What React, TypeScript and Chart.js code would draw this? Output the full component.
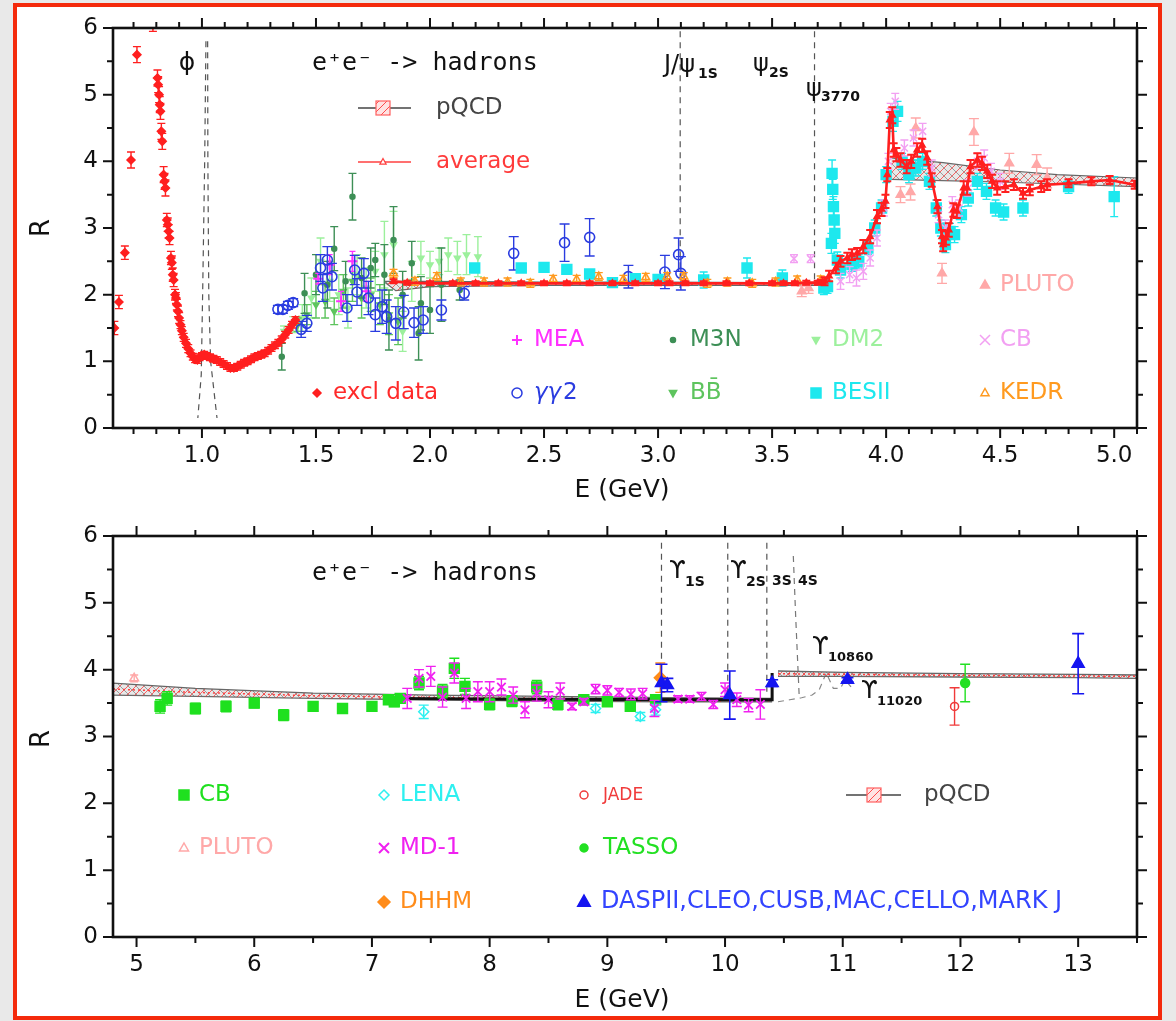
import React, { useEffect, useRef } from "react";
import { Chart, registerables } from "chart.js";

Chart.register(...registerables);

const SANS = "'DejaVu Sans', 'Noto Sans', sans-serif";
const MONO = "'DejaVu Sans Mono', 'Liberation Mono', monospace";

// ---------------- tick labels ----------------
const topXTicks = [1.0, 1.5, 2.0, 2.5, 3.0, 3.5, 4.0, 4.5, 5.0];
const botXTicks = [5, 6, 7, 8, 9, 10, 11, 12, 13];
const yTicks = [0, 1, 2, 3, 4, 5, 6];

// ---------------- TOP PANEL DATA ----------------
const exclE = [0.616,0.636,0.662,0.689,0.715,0.785,0.805,0.808,0.812,0.815,0.818,0.822,0.826,0.832,0.836,0.840,0.846,0.850,0.854,0.858,0.864,0.868,0.872,0.876,0.882,0.886,0.890,0.895,0.900,0.906,0.912,0.920,0.930,0.940,0.950,0.960,0.970,0.980,0.990,1.000,1.010,1.020,1.035,1.050,1.065,1.080,1.095,1.110,1.125,1.140,1.155,1.170,1.185,1.200,1.215,1.230,1.245,1.260,1.275,1.290,1.305,1.320,1.335,1.350,1.365,1.380,1.395,1.410];
const exclR = [1.50,1.89,2.63,4.02,5.60,6.05,5.25,5.15,5.00,4.85,4.75,4.45,4.30,3.80,3.70,3.60,3.12,3.05,2.95,2.85,2.55,2.48,2.30,2.22,2.00,1.95,1.85,1.75,1.65,1.55,1.46,1.36,1.27,1.19,1.12,1.07,1.03,1.02,1.06,1.08,1.10,1.08,1.06,1.04,1.02,0.99,0.96,0.93,0.90,0.90,0.92,0.95,0.98,1.00,1.03,1.06,1.08,1.10,1.12,1.16,1.20,1.24,1.28,1.33,1.40,1.47,1.55,1.62];
const exclErr = [0.10,0.10,0.10,0.12,0.12,0.10,0.12,0.12,0.12,0.12,0.12,0.12,0.12,0.12,0.12,0.12,0.10,0.10,0.10,0.10,0.10,0.10,0.10,0.10,0.08,0.08,0.08,0.08,0.08,0.06,0.06,0.06,0.06,0.06,0.05,0.05,0.05,0.05,0.05,0.05,0.05,0.05,0.05,0.05,0.05,0.05,0.05,0.05,0.05,0.05,0.05,0.05,0.05,0.05,0.05,0.05,0.05,0.05,0.05,0.05,0.05,0.05,0.05,0.05,0.05,0.05,0.05,0.05];

const gg2E = [1.333,1.355,1.377,1.40,1.435,1.46,1.52,1.53,1.55,1.57,1.636,1.67,1.68,1.71,1.73,1.76,1.79,1.81,1.85,1.885,1.93,1.97,2.05,2.15,2.367,2.59,2.70,2.87,3.03,3.09,3.10];
const gg2R = [1.78,1.78,1.84,1.88,1.48,1.57,2.40,2.10,2.52,2.27,1.80,2.37,2.04,2.32,1.95,1.70,1.82,1.67,1.57,1.74,1.58,1.62,1.77,2.02,2.62,2.78,2.86,2.27,2.34,2.60,2.32];
const gg2Err = [0.06,0.06,0.06,0.06,0.12,0.12,0.20,0.20,0.20,0.20,0.20,0.22,0.20,0.22,0.25,0.25,0.25,0.25,0.25,0.25,0.22,0.20,0.15,0.10,0.25,0.28,0.28,0.17,0.25,0.25,0.25];

const m3nE = [1.35,1.45,1.50,1.55,1.58,1.63,1.66,1.70,1.74,1.76,1.80,1.82,1.84,1.88,1.92,1.95,1.96,2.00,2.05,2.13];
const m3nR = [1.07,2.02,2.30,2.15,2.69,2.20,3.47,2.25,2.40,2.52,2.30,1.62,2.82,2.00,2.47,1.42,1.87,1.77,2.15,2.07];
const m3nErr = [0.20,0.30,0.30,0.35,0.33,0.30,0.35,0.30,0.30,0.25,0.45,0.45,0.50,0.35,0.33,0.40,0.40,0.35,0.55,0.15];

const dm2E = [1.36,1.40,1.44,1.48,1.52,1.56,1.60,1.64,1.68,1.72,1.76,1.80,1.84,1.88,1.92,1.96,2.00,2.04,2.08,2.12,2.16,2.21];
const dm2R = [1.45,1.55,1.65,1.95,2.50,2.20,2.00,1.80,2.30,2.10,2.35,2.60,2.75,1.45,2.20,2.55,2.45,2.50,2.60,2.55,2.60,2.57];
const dm2Err = [0.08,0.12,0.20,0.30,0.35,0.30,0.30,0.30,0.30,0.30,0.30,0.50,0.50,0.30,0.30,0.25,0.20,0.20,0.25,0.25,0.30,0.30];

const bbE = [1.42,1.46,1.50,1.54,1.58,1.62,1.66,1.70,1.74,1.78,1.82,1.86];
const bbR = [1.55,1.70,1.85,1.90,1.75,2.05,2.20,1.95,2.00,1.85,1.70,1.60];
const bbErr = [0.10,0.15,0.20,0.25,0.20,0.25,0.30,0.30,0.25,0.30,0.30,0.35];

const meaE = [1.51,1.56,1.61,1.66,1.72];
const meaR = [2.24,2.45,1.90,2.50,2.05];
const meaErr = [0.08,0.15,0.15,0.15,0.15];

const besE = [2.196,2.40,2.50,2.60,2.70,2.80,2.90,3.00,3.20,3.39,3.545,3.727,3.743,3.760,3.763,3.766,3.769,3.772,3.775,3.786,3.800,3.850,3.880,3.920,3.950,3.980,4.000,4.030,4.050,4.070,4.100,4.130,4.160,4.190,4.220,4.240,4.260,4.280,4.300,4.330,4.360,4.400,4.440,4.480,4.515,4.600,4.800,5.000];
const besR = [2.40,2.40,2.41,2.38,2.31,2.18,2.24,2.23,2.22,2.40,2.25,2.10,2.12,2.77,3.82,3.58,3.32,3.12,2.92,2.52,2.37,2.45,2.50,2.70,3.00,3.30,3.80,4.60,4.75,4.00,3.80,3.90,4.00,3.70,3.30,3.00,2.75,2.95,2.90,3.20,3.45,3.70,3.55,3.30,3.24,3.30,3.62,3.47];
const besErr = [0.06,0.06,0.06,0.06,0.06,0.06,0.06,0.06,0.12,0.15,0.12,0.10,0.10,0.15,0.20,0.15,0.15,0.15,0.15,0.12,0.12,0.10,0.10,0.10,0.12,0.12,0.12,0.15,0.15,0.12,0.12,0.12,0.12,0.12,0.12,0.12,0.12,0.12,0.12,0.12,0.12,0.12,0.12,0.12,0.12,0.12,0.10,0.30];

const kedrE = [1.84,1.934,2.03,2.135,2.237,2.34,2.44,2.54,2.643,2.74,2.848,2.946,3.04,3.113,3.216,3.304,3.413,3.515,3.61,3.713];
const kedrR = [2.32,2.20,2.27,2.19,2.19,2.19,2.17,2.23,2.23,2.27,2.23,2.26,2.27,2.27,2.17,2.19,2.17,2.19,2.22,2.22];
const kedrErr = [0.06,0.06,0.06,0.06,0.06,0.06,0.06,0.06,0.06,0.06,0.06,0.06,0.06,0.06,0.06,0.06,0.06,0.06,0.06,0.06];

const plutoTE = [3.63,3.66,4.063,4.107,4.13,4.245,4.385,4.54,4.66,4.706];
const plutoTR = [2.05,2.10,3.50,3.54,4.50,2.32,4.44,3.97,3.95,3.75];
const plutoTErr = [0.08,0.08,0.12,0.12,0.15,0.15,0.20,0.15,0.15,0.15];

const cbTE = [3.596,3.669,3.80,3.84,3.87,3.90,3.93,3.96,3.99,4.01,4.02,4.04,4.08,4.12,4.16,4.20,4.23,4.26,4.29,4.32,4.36,4.40,4.43,4.46,4.50];
const cbTR = [2.54,2.54,2.20,2.30,2.25,2.35,2.55,2.85,3.30,4.00,4.75,4.90,4.20,4.35,4.45,3.90,3.20,3.00,3.35,3.30,3.60,4.00,4.05,3.85,3.70];
const cbTErr = [0.06,0.06,0.12,0.12,0.12,0.12,0.12,0.12,0.12,0.12,0.12,0.12,0.12,0.12,0.12,0.12,0.12,0.12,0.12,0.12,0.12,0.12,0.12,0.12,0.12];

const avgE = [1.84,1.90,2.00,2.10,2.20,2.30,2.40,2.50,2.60,2.70,2.80,2.90,3.00,3.05,3.12,3.20,3.30,3.40,3.50,3.55,3.60,3.65,3.70,3.72,3.73,3.75,3.78,3.80,3.83,3.85,3.873,3.90,3.93,3.96,3.98,3.997,4.005,4.016,4.027,4.033,4.045,4.063,4.09,4.11,4.136,4.158,4.18,4.20,4.225,4.245,4.25,4.262,4.275,4.295,4.31,4.34,4.355,4.37,4.40,4.42,4.443,4.465,4.487,4.523,4.56,4.60,4.63,4.68,4.706,4.80,4.90,4.98,5.09];
const avgR = [2.20,2.18,2.17,2.17,2.17,2.17,2.17,2.17,2.17,2.17,2.17,2.17,2.17,2.17,2.17,2.17,2.17,2.17,2.17,2.17,2.17,2.18,2.18,2.19,2.20,2.28,2.40,2.50,2.55,2.60,2.62,2.72,2.87,3.17,3.28,3.40,3.80,4.62,4.69,4.17,4.10,4.02,3.92,4.00,4.17,4.24,4.05,3.72,3.32,2.87,2.75,2.85,2.97,3.27,3.25,3.60,3.60,3.92,4.02,3.97,3.85,3.70,3.60,3.62,3.65,3.52,3.57,3.62,3.65,3.67,3.70,3.72,3.65];
const avgErr = [0.03,0.03,0.03,0.03,0.03,0.03,0.03,0.03,0.03,0.03,0.03,0.03,0.03,0.03,0.03,0.03,0.03,0.03,0.03,0.03,0.03,0.03,0.03,0.03,0.06,0.08,0.08,0.08,0.08,0.08,0.08,0.10,0.10,0.10,0.10,0.10,0.10,0.12,0.12,0.10,0.10,0.10,0.10,0.10,0.10,0.10,0.10,0.10,0.10,0.10,0.10,0.10,0.10,0.10,0.10,0.10,0.10,0.10,0.10,0.10,0.10,0.10,0.10,0.08,0.08,0.08,0.08,0.08,0.08,0.06,0.06,0.06,0.06];

const pqE1 = [1.80,1.85,1.90,2.00,2.50,3.00,3.50,3.73];
const pqUp1 = [2.20,2.20,2.20,2.20,2.19,2.19,2.18,2.18];
const pqLo1 = [2.19,2.06,2.08,2.12,2.14,2.14,2.14,2.14];
const pqE2 = [4.02,4.25,4.50,4.75,5.10];
const pqUp2 = [4.05,3.98,3.87,3.80,3.75];
const pqLo2 = [3.73,3.71,3.69,3.66,3.62];

const phiLE = [1.0175,1.012,1.003,0.997,0.982];
const phiLR = [5.80,4.00,2.00,0.80,0.15];
const phiRE = [1.025,1.026,1.030,1.038,1.066];
const phiRR = [5.80,4.00,2.00,1.00,0.15];
const jpsiE = [3.097,3.097];
const jpsiR = [5.95,2.10];
const psi2E = [3.686,3.686];
const psi2R = [5.95,2.20];

// ---------------- BOTTOM PANEL DATA ----------------
const cbBE = [5.20,5.26,5.50,5.76,6.00,6.25,6.50,6.75,7.00,7.14,7.19,7.24,7.40,7.60,7.70,7.79,8.00,8.19,8.40,8.58,8.80,9.00,9.195,9.41];
const cbBR = [3.45,3.57,3.42,3.45,3.50,3.32,3.45,3.42,3.45,3.55,3.52,3.57,3.80,3.68,4.02,3.75,3.48,3.53,3.74,3.48,3.55,3.52,3.45,3.55];
const cbBErr = [0.10,0.10,0.08,0.08,0.07,0.08,0.07,0.07,0.07,0.07,0.07,0.07,0.10,0.10,0.15,0.12,0.08,0.08,0.10,0.08,0.05,0.06,0.05,0.06];

const lenaE = [7.44,8.90,9.28,9.41];
const lenaR = [3.37,3.42,3.30,3.40];
const lenaErr = [0.10,0.06,0.06,0.08];

const md1E = [7.3,7.4,7.5,7.6,7.7,7.8,7.9,8.0,8.1,8.2,8.3,8.4,8.5,8.6,8.7,8.8,8.9,9.0,9.1,9.2,9.3,9.4,9.6,9.7,9.8,9.9,10.0,10.1,10.2,10.3];
const md1R = [3.57,3.87,3.90,3.59,3.95,3.57,3.67,3.67,3.74,3.62,3.40,3.65,3.55,3.68,3.45,3.52,3.71,3.69,3.66,3.63,3.64,3.42,3.56,3.56,3.60,3.48,3.70,3.55,3.47,3.48];
const md1Err = [0.15,0.13,0.15,0.15,0.15,0.15,0.15,0.15,0.12,0.12,0.12,0.12,0.12,0.12,0.05,0.05,0.07,0.07,0.06,0.08,0.08,0.12,0.05,0.05,0.06,0.06,0.10,0.10,0.10,0.22];

const daspE = [9.46,9.51,10.04,10.40,11.04,13.00];
const daspR = [3.80,3.77,3.62,3.80,3.85,4.09];
const daspErr = [0.28,0.10,0.36,0.05,0.03,0.45];

const dhhmE = [9.45];
const dhhmR = [3.88];
const dhhmErr = [0.22];

const jadeE = [11.95];
const jadeR = [3.45];
const jadeErr = [0.28];

const tassoE = [12.04];
const tassoR = [3.80];
const tassoErr = [0.28];

const plutoBE = [4.98];
const plutoBR = [3.87];
const plutoBErr = [0.05];

const pqbE1 = [4.80,5.50,6.50,7.50,8.50,9.50,10.40];
const pqbUp1 = [3.80,3.72,3.65,3.62,3.60,3.58,3.57];
const pqbLo1 = [3.62,3.60,3.57,3.55,3.53,3.52,3.52];
const pqbMid1 = [3.71,3.66,3.61,3.585,3.565,3.55,3.545];
const pqbE2 = [10.45,11.0,12.0,13.0,13.5];
const pqbUp2 = [3.98,3.96,3.94,3.93,3.92];
const pqbLo2 = [3.90,3.90,3.89,3.88,3.87];
const pqbMid2 = [3.94,3.93,3.915,3.905,3.90];
const blackE = [7.10,8.00,9.00,10.40,10.40];
const blackR = [3.57,3.56,3.555,3.55,3.95];

const ups1E = [9.46,9.46];
const ups1R = [5.90,3.80];
const ups2E = [10.023,10.023];
const ups2R = [5.90,3.60];
const ups3E = [10.355,10.355];
const ups3R = [5.90,3.60];
const ups4E = [10.58,10.60,10.62,10.63];
const ups4R = [5.70,4.80,4.00,3.60];
const upsTailE = [10.45,10.55,10.65,10.74,10.80,10.86,10.92,10.98,11.02,11.08];
const upsTailR = [3.52,3.55,3.58,3.62,3.70,3.95,3.72,3.72,3.85,3.72];

// ---------------- helpers ----------------
function pts(xs: number[], ys: number[]) {
  return xs.map((x, i) => ({ x, y: ys[i] }));
}

function scatter(label: string, xs: number[], ys: number[], errs: number[], o: any) {
  return {
    label,
    data: pts(xs, ys),
    errs,
    showLine: false,
    pointStyle: o.shape,
    pointRadius: o.r,
    pointRotation: o.rot || 0,
    pointBackgroundColor: o.fill || "rgba(0,0,0,0)",
    pointBorderColor: o.color,
    pointBorderWidth: o.lw || 1.5,
    borderColor: o.color,
    backgroundColor: o.fill || "rgba(0,0,0,0)",
    errColor: o.errColor || o.color,
    cap: o.cap === undefined ? 4 : o.cap,
    errWidth: o.ew || 1.4,
  };
}

function line(label: string, xs: number[], ys: number[], o: any) {
  return {
    label,
    data: pts(xs, ys),
    showLine: true,
    pointRadius: 0,
    borderColor: o.color,
    borderWidth: o.w || 1.2,
    borderDash: o.dash || [],
    fill: o.fill === undefined ? false : o.fill,
    backgroundColor: o.bg || "rgba(0,0,0,0)",
    tension: 0,
  };
}

function drawMarker(ctx: CanvasRenderingContext2D, m: any) {
  const { s, x, y, r, c } = m;
  ctx.save();
  ctx.beginPath();
  ctx.lineWidth = m.lw || 1.5;
  ctx.strokeStyle = c;
  ctx.fillStyle = m.f || c;
  if (s === "circle") ctx.arc(x, y, r, 0, Math.PI * 2);
  else if (s === "rect") ctx.rect(x - r, y - r, 2 * r, 2 * r);
  else if (s === "tri") {
    ctx.moveTo(x, y - r);
    ctx.lineTo(x + r * 0.9, y + r * 0.6);
    ctx.lineTo(x - r * 0.9, y + r * 0.6);
    ctx.closePath();
  } else if (s === "triDown") {
    ctx.moveTo(x, y + r);
    ctx.lineTo(x + r * 0.9, y - r * 0.6);
    ctx.lineTo(x - r * 0.9, y - r * 0.6);
    ctx.closePath();
  } else if (s === "diamond") {
    ctx.moveTo(x, y - r);
    ctx.lineTo(x + r, y);
    ctx.lineTo(x, y + r);
    ctx.lineTo(x - r, y);
    ctx.closePath();
  } else if (s === "plus") {
    ctx.moveTo(x - r, y);
    ctx.lineTo(x + r, y);
    ctx.moveTo(x, y - r);
    ctx.lineTo(x, y + r);
  } else if (s === "x") {
    ctx.moveTo(x - r, y - r);
    ctx.lineTo(x + r, y + r);
    ctx.moveTo(x + r, y - r);
    ctx.lineTo(x - r, y + r);
  }
  if (m.filled && s !== "plus" && s !== "x") ctx.fill();
  ctx.stroke();
  ctx.restore();
}

const errorBars = {
  id: "errorBars",
  beforeDatasetDraw(chart: any, args: any) {
    const ds = chart.data.datasets[args.index];
    if (!ds.errs) return;
    const { ctx, chartArea: a, scales } = chart;
    const ys = scales.y;
    ctx.save();
    ctx.beginPath();
    ctx.rect(a.left, a.top, a.right - a.left, a.bottom - a.top);
    ctx.clip();
    ctx.strokeStyle = ds.errColor;
    ctx.lineWidth = ds.errWidth;
    ctx.beginPath();
    args.meta.data.forEach((el: any, i: number) => {
      const e = ds.errs[i];
      if (!e) return;
      const v = ds.data[i].y;
      const y1 = ys.getPixelForValue(v + e);
      const y2 = ys.getPixelForValue(v - e);
      const x = el.x;
      const c = ds.cap;
      ctx.moveTo(x, y1);
      ctx.lineTo(x, y2);
      if (c > 0) {
        ctx.moveTo(x - c, y1);
        ctx.lineTo(x + c, y1);
        ctx.moveTo(x - c, y2);
        ctx.lineTo(x + c, y2);
      }
    });
    ctx.stroke();
    ctx.restore();
  },
};

function framePlugin(xMajor: number[], xMinorStep: number, yMajor: number[], yMinorStep: number) {
  return {
    id: "frame",
    afterDraw(chart: any) {
      const { ctx, chartArea: a, scales } = chart;
      const xs = scales.x;
      const ys = scales.y;
      const steps = (min: number, max: number, st: number) => {
        const out: number[] = [];
        for (let i = Math.ceil(min / st - 1e-9); i * st <= max + 1e-9; i++) out.push(i * st);
        return out;
      };
      ctx.save();
      ctx.strokeStyle = "#111";
      ctx.lineWidth = 2;
      ctx.beginPath();
      const seg = (x1: number, y1: number, x2: number, y2: number) => {
        ctx.moveTo(x1, y1);
        ctx.lineTo(x2, y2);
      };
      for (const v of steps(xs.min, xs.max, xMinorStep)) {
        const p = xs.getPixelForValue(v);
        seg(p, a.bottom, p, a.bottom + 6);
        seg(p, a.top, p, a.top - 6);
      }
      for (const v of xMajor) {
        const p = xs.getPixelForValue(v);
        seg(p, a.bottom, p, a.bottom + 10);
        seg(p, a.top, p, a.top - 10);
      }
      for (const v of steps(ys.min, ys.max, yMinorStep)) {
        const p = ys.getPixelForValue(v);
        seg(a.left, p, a.left - 6, p);
        seg(a.right, p, a.right + 6, p);
      }
      for (const v of yMajor) {
        const p = ys.getPixelForValue(v);
        seg(a.left, p, a.left - 10, p);
        seg(a.right, p, a.right + 10, p);
      }
      ctx.stroke();
      ctx.lineWidth = 2.6;
      ctx.strokeRect(a.left, a.top, a.right - a.left, a.bottom - a.top);
      ctx.restore();
    },
  };
}

function textPlugin(items: any[], markers: any[], keys: any[], hatchKey: any) {
  return {
    id: "texts",
    afterDraw(chart: any) {
      const ctx: CanvasRenderingContext2D = chart.ctx;
      for (const k of keys) {
        ctx.save();
        ctx.strokeStyle = k.color;
        ctx.lineWidth = 1.5;
        ctx.beginPath();
        ctx.moveTo(k.x1, k.y);
        ctx.lineTo(k.x2, k.y);
        ctx.stroke();
        if (k.box) {
          ctx.fillStyle = "#fff";
          ctx.fillRect(k.bx - 7, k.y - 7, 14, 14);
          ctx.fillStyle = hatchKey;
          ctx.fillRect(k.bx - 7, k.y - 7, 14, 14);
          ctx.strokeStyle = "#ff6060";
          ctx.lineWidth = 1.2;
          ctx.strokeRect(k.bx - 7, k.y - 7, 14, 14);
        }
        ctx.restore();
        if (k.marker) drawMarker(ctx, k.marker);
      }
      for (const m of markers) drawMarker(ctx, m);
      for (const it of items) {
        ctx.save();
        ctx.font = `${it.italic ? "italic " : ""}${it.bold ? "bold " : ""}${it.size}px ${it.mono ? MONO : SANS}`;
        ctx.fillStyle = it.color || "#111";
        ctx.textAlign = it.align || "left";
        ctx.textBaseline = "middle";
        ctx.translate(it.x, it.y);
        if (it.rot) ctx.rotate((it.rot * Math.PI) / 180);
        ctx.fillText(it.t, 0, 0);
        ctx.restore();
      }
    },
  };
}

function makeHatch(band: boolean) {
  const c = document.createElement("canvas");
  c.width = 8;
  c.height = 8;
  const g = c.getContext("2d")!;
  if (band) {
    g.fillStyle = "rgba(150,150,150,0.22)";
    g.fillRect(0, 0, 8, 8);
    g.strokeStyle = "rgba(110,110,110,0.8)";
    g.lineWidth = 0.8;
    g.beginPath();
    g.moveTo(0, 0);
    g.lineTo(8, 8);
    g.stroke();
    g.strokeStyle = "rgba(255,40,40,0.9)";
    g.beginPath();
    g.moveTo(8, 0);
    g.lineTo(0, 8);
    g.stroke();
  } else {
    g.fillStyle = "rgba(255,200,200,0.5)";
    g.fillRect(0, 0, 8, 8);
    g.strokeStyle = "rgba(255,60,60,0.9)";
    g.lineWidth = 1;
    g.beginPath();
    g.moveTo(0, 8);
    g.lineTo(8, 0);
    g.moveTo(-4, 4);
    g.lineTo(4, -4);
    g.moveTo(4, 12);
    g.lineTo(12, 4);
    g.stroke();
  }
  return g.createPattern(c, "repeat");
}

function baseOptions(xMin: number, xMax: number, xTicks: number[], fmt: (v: number) => string, padTop: number, padBottom: number) {
  const tickFont = { family: SANS, size: 23 };
  return {
    responsive: false,
    animation: false,
    events: [],
    layout: { padding: { left: 53, right: 39, top: padTop, bottom: padBottom } },
    plugins: { legend: { display: false }, tooltip: { enabled: false } },
    scales: {
      x: {
        type: "linear",
        min: xMin,
        max: xMax,
        afterBuildTicks: (s: any) => {
          s.ticks = xTicks.map((v) => ({ value: v }));
        },
        afterFit: (s: any) => {
          s.height = 60;
        },
        ticks: { font: tickFont, color: "#111", padding: 4, maxRotation: 0, autoSkip: false, callback: (v: any) => fmt(Number(v)) },
        grid: { display: false, drawTicks: true, tickLength: 10 },
        border: { display: false },
      },
      y: {
        type: "linear",
        min: 0,
        max: 6,
        afterBuildTicks: (s: any) => {
          s.ticks = yTicks.map((v) => ({ value: v }));
        },
        afterFit: (s: any) => {
          s.width = 60;
        },
        ticks: { font: tickFont, color: "#111", padding: 5, autoSkip: false, callback: (v: any) => String(v) },
        grid: { display: false, drawTicks: true, tickLength: 10 },
        border: { display: false },
      },
    },
  };
}

// colours
const C = {
  red: "#ff1f1f",
  blue: "#2a3ce0",
  m3n: "#3d8f56",
  bb: "#5ec45e",
  dm2: "#9cf09c",
  mea: "#ff30ff",
  bes: "#1de8ee",
  kedr: "#ff9a1f",
  pluto: "#ffa8a8",
  cbTop: "#f2a0f2",
  cbB: "#1fe01f",
  lena: "#2ef0f0",
  md1: "#f020f0",
  dhhm: "#ff8c1a",
  jade: "#f03a3a",
  tasso: "#22e022",
  dasp: "#1515f0",
  dash: "#555",
  band: "#666",
};

function topConfig(band: any, hatchKey: any) {
  const datasets = [
    { ...scatter("average", avgE, avgR, avgErr, { shape: "triangle", r: 3.5, color: C.red, fill: C.red, cap: 4, ew: 2 }), showLine: true, borderWidth: 2.6 },
    scatter("excl data", exclE, exclR, exclErr, { shape: "rectRot", r: 4, color: C.red, fill: C.red, cap: 4 }),
    scatter("KEDR", kedrE, kedrR, kedrErr, { shape: "triangle", r: 4.5, color: C.kedr, cap: 4, lw: 1.6 }),
    scatter("CB", cbTE, cbTR, cbTErr, { shape: "crossRot", r: 5, color: C.cbTop, cap: 4 }),
    scatter("BESII", besE, besR, besErr, { shape: "rect", r: 7, color: C.bes, fill: C.bes, cap: 4 }),
    scatter("PLUTO", plutoTE, plutoTR, plutoTErr, { shape: "triangle", r: 5, color: C.pluto, fill: C.pluto, cap: 5 }),
    scatter("γγ2", gg2E, gg2R, gg2Err, { shape: "circle", r: 5, color: C.blue, cap: 5, lw: 1.6 }),
    scatter("MEA", meaE, meaR, meaErr, { shape: "cross", r: 5, color: C.mea, cap: 3, lw: 2 }),
    scatter("M3N", m3nE, m3nR, m3nErr, { shape: "circle", r: 2.5, color: C.m3n, fill: C.m3n, cap: 4 }),
    scatter("BB̄", bbE, bbR, bbErr, { shape: "triangle", rot: 180, r: 3.5, color: C.bb, fill: C.bb, cap: 4 }),
    scatter("DM2", dm2E, dm2R, dm2Err, { shape: "triangle", rot: 180, r: 3.5, color: C.dm2, fill: C.dm2, cap: 4 }),
    line("pQCD up 1", pqE1, pqUp1, { color: C.band, w: 1.2, fill: "+1", bg: band }),
    line("pQCD lo 1", pqE1, pqLo1, { color: C.band, w: 1.2 }),
    line("pQCD up 2", pqE2, pqUp2, { color: C.band, w: 1.2, fill: "+1", bg: band }),
    line("pQCD lo 2", pqE2, pqLo2, { color: C.band, w: 1.2 }),
    line("phi L", phiLE, phiLR, { color: C.dash, w: 1.2, dash: [6, 5] }),
    line("phi R", phiRE, phiRR, { color: C.dash, w: 1.2, dash: [6, 5] }),
    line("J/psi", jpsiE, jpsiR, { color: C.dash, w: 1.2, dash: [6, 5] }),
    line("psi2S", psi2E, psi2R, { color: C.dash, w: 1.2, dash: [6, 5] }),
  ];
  const items = [
    { t: "ϕ", x: 187, y: 63, size: 25, align: "center" },
    { t: "e⁺e⁻ -> hadrons", x: 312, y: 63, size: 25, mono: true },
    { t: "pQCD", x: 436, y: 108, size: 23, color: "#444" },
    { t: "average", x: 436, y: 162, size: 23, color: "#ff3b3b" },
    { t: "J/ψ", x: 664, y: 66, size: 24 },
    { t: "1S", x: 698, y: 74, size: 14, bold: true },
    { t: "ψ", x: 753, y: 65, size: 24 },
    { t: "2S", x: 769, y: 73, size: 14, bold: true },
    { t: "ψ", x: 806, y: 90, size: 24 },
    { t: "3770", x: 821, y: 97, size: 14, bold: true },
    { t: "R", x: 42, y: 228, size: 26, align: "center", rot: -90 },
    { t: "E (GeV)", x: 622, y: 490, size: 25, align: "center" },
    { t: "excl data", x: 333, y: 393, size: 23, color: "#ff2a2a" },
    { t: "MEA", x: 534, y: 340, size: 23, color: C.mea },
    { t: "γγ", x: 534, y: 393, size: 23, color: C.blue, italic: true },
    { t: "2", x: 563, y: 393, size: 23, color: C.blue },
    { t: "M3N", x: 690, y: 340, size: 23, color: C.m3n },
    { t: "BB\u0304", x: 690, y: 393, size: 23, color: C.bb },
    { t: "DM2", x: 832, y: 340, size: 23, color: C.dm2 },
    { t: "BESII", x: 832, y: 393, size: 23, color: C.bes },
    { t: "PLUTO", x: 1000, y: 285, size: 23, color: C.pluto },
    { t: "CB", x: 1000, y: 340, size: 23, color: C.cbTop },
    { t: "KEDR", x: 1000, y: 393, size: 23, color: C.kedr },
  ];
  const markers = [
    { s: "diamond", x: 317, y: 393, r: 4, c: C.red, filled: true },
    { s: "plus", x: 517, y: 340, r: 5, c: C.mea, lw: 2 },
    { s: "circle", x: 517, y: 393, r: 5, c: C.blue },
    { s: "circle", x: 673, y: 340, r: 2.5, c: C.m3n, filled: true },
    { s: "triDown", x: 673, y: 393, r: 4, c: C.bb, filled: true },
    { s: "triDown", x: 816, y: 340, r: 4, c: C.dm2, filled: true },
    { s: "rect", x: 816, y: 393, r: 5, c: C.bes, filled: true },
    { s: "tri", x: 985, y: 285, r: 5, c: C.pluto, filled: true },
    { s: "x", x: 985, y: 340, r: 5, c: C.cbTop },
    { s: "tri", x: 985, y: 393, r: 4.5, c: C.kedr },
  ];
  const keys = [
    { x1: 358, x2: 411, y: 108, color: "#444", box: true, bx: 383 },
    { x1: 358, x2: 411, y: 162, color: "#ff4040", marker: { s: "tri", x: 383, y: 162, r: 3.5, c: "#ff4040", f: "#fff", filled: true, lw: 1.2 } },
  ];
  const options: any = baseOptions(0.61, 5.1, topXTicks, (v) => v.toFixed(1), 28, 22);
  return {
    type: "scatter",
    data: { datasets },
    options,
    plugins: [errorBars, framePlugin(topXTicks, 0.1, yTicks, 0.5), textPlugin(items, markers, keys, hatchKey)],
  };
}

function bottomConfig(band: any, hatchKey: any) {
  const datasets = [
    scatter("DASPII,CLEO,CUSB,MAC,CELLO,MARK J", daspE, daspR, daspErr, { shape: "triangle", r: 7, color: C.dasp, fill: C.dasp, cap: 6, ew: 1.6 }),
    scatter("DHHM", dhhmE, dhhmR, dhhmErr, { shape: "rectRot", r: 6, color: C.dhhm, fill: C.dhhm, cap: 5 }),
    scatter("JADE", jadeE, jadeR, jadeErr, { shape: "circle", r: 4, color: C.jade, cap: 5 }),
    scatter("TASSO", tassoE, tassoR, tassoErr, { shape: "circle", r: 4.5, color: C.tasso, fill: C.tasso, cap: 5 }),
    scatter("MD-1", md1E, md1R, md1Err, { shape: "crossRot", r: 6, color: C.md1, cap: 5, lw: 1.8 }),
    scatter("LENA", lenaE, lenaR, lenaErr, { shape: "rectRot", r: 5, color: C.lena, cap: 5 }),
    scatter("CB", cbBE, cbBR, cbBErr, { shape: "rect", r: 7, color: C.cbB, fill: C.cbB, cap: 5 }),
    scatter("PLUTO", plutoBE, plutoBR, plutoBErr, { shape: "triangle", r: 5, color: C.pluto, cap: 4 }),
    line("average", blackE, blackR, { color: "#111", w: 3 }),
    line("pQCD mid 1", pqbE1, pqbMid1, { color: "#ff4040", w: 1.5, dash: [2, 3] }),
    line("pQCD mid 2", pqbE2, pqbMid2, { color: "#ff4040", w: 1.5, dash: [2, 3] }),
    line("pQCD up 1", pqbE1, pqbUp1, { color: C.band, w: 1.3, fill: "+1", bg: band }),
    line("pQCD lo 1", pqbE1, pqbLo1, { color: C.band, w: 1.3 }),
    line("pQCD up 2", pqbE2, pqbUp2, { color: C.band, w: 1.3, fill: "+1", bg: band }),
    line("pQCD lo 2", pqbE2, pqbLo2, { color: C.band, w: 1.3 }),
    line("Y1S", ups1E, ups1R, { color: C.dash, w: 1.2, dash: [6, 5] }),
    line("Y2S", ups2E, ups2R, { color: C.dash, w: 1.2, dash: [6, 5] }),
    line("Y3S", ups3E, ups3R, { color: C.dash, w: 1.2, dash: [6, 5] }),
    line("Y4S", ups4E, ups4R, { color: "#777", w: 1.2, dash: [6, 5] }),
    line("Y tail", upsTailE, upsTailR, { color: "#888", w: 1.2, dash: [6, 5] }),
  ];
  const items = [
    { t: "e⁺e⁻ -> hadrons", x: 312, y: 63, size: 25, mono: true },
    { t: "ϒ", x: 669, y: 62, size: 24 },
    { t: "1S", x: 685, y: 72, size: 14, bold: true },
    { t: "ϒ", x: 730, y: 62, size: 24 },
    { t: "2S", x: 746, y: 72, size: 14, bold: true },
    { t: "3S", x: 772, y: 71, size: 14, bold: true },
    { t: "4S", x: 798, y: 71, size: 14, bold: true },
    { t: "ϒ", x: 812, y: 138, size: 24 },
    { t: "10860", x: 828, y: 148, size: 13, bold: true },
    { t: "ϒ", x: 861, y: 182, size: 24 },
    { t: "11020", x: 877, y: 192, size: 13, bold: true },
    { t: "R", x: 42, y: 229, size: 26, align: "center", rot: -90 },
    { t: "E (GeV)", x: 622, y: 490, size: 25, align: "center" },
    { t: "CB", x: 199, y: 285, size: 23, color: C.cbB },
    { t: "PLUTO", x: 199, y: 338, size: 23, color: C.pluto },
    { t: "LENA", x: 400, y: 285, size: 23, color: C.lena },
    { t: "MD-1", x: 400, y: 338, size: 23, color: C.md1 },
    { t: "DHHM", x: 400, y: 392, size: 23, color: C.dhhm },
    { t: "JADE", x: 603, y: 286, size: 17, color: C.jade },
    { t: "TASSO", x: 603, y: 338, size: 23, color: C.tasso },
    { t: "DASPII,CLEO,CUSB,MAC,CELLO,MARK J", x: 601, y: 392, size: 24, color: "#3344ff" },
    { t: "pQCD", x: 924, y: 285, size: 23, color: "#444" },
  ];
  const markers = [
    { s: "rect", x: 184, y: 285, r: 5, c: C.cbB, filled: true },
    { s: "tri", x: 184, y: 338, r: 5, c: C.pluto },
    { s: "diamond", x: 384, y: 285, r: 5, c: C.lena },
    { s: "x", x: 384, y: 338, r: 5, c: C.md1, lw: 2 },
    { s: "diamond", x: 384, y: 392, r: 6, c: C.dhhm, filled: true },
    { s: "circle", x: 584, y: 285, r: 4, c: C.jade },
    { s: "circle", x: 584, y: 338, r: 4, c: C.tasso, filled: true },
    { s: "tri", x: 584, y: 392, r: 7, c: C.dasp, filled: true },
  ];
  const keys = [{ x1: 846, x2: 901, y: 285, color: "#444", box: true, bx: 874 }];
  const options: any = baseOptions(4.8, 13.5, botXTicks, (v) => String(v), 26, 24);
  return {
    type: "scatter",
    data: { datasets },
    options,
    plugins: [errorBars, framePlugin(botXTicks, 0.5, yTicks, 0.5), textPlugin(items, markers, keys, hatchKey)],
  };
}

export default function App() {
  const topRef = useRef<HTMLCanvasElement>(null);
  const botRef = useRef<HTMLCanvasElement>(null);
  useEffect(() => {
    const band = makeHatch(true);
    const hatchKey = makeHatch(false);
    const c1 = new Chart(topRef.current as any, topConfig(band, hatchKey) as any);
    const c2 = new Chart(botRef.current as any, bottomConfig(band, hatchKey) as any);
    return () => {
      c1.destroy();
      c2.destroy();
    };
  }, []);
  return (
    <div style={{ position: "absolute", left: 0, top: 0, width: 1176, height: 1021, background: "#e9e9e9", overflow: "hidden" }}>
      <div
        style={{
          position: "absolute",
          left: 13,
          top: 3,
          width: 1149,
          height: 1017,
          boxSizing: "border-box",
          border: "4px solid #f42a0c",
          background: "#ffffff",
        }}
      />
      <canvas ref={topRef} width={1176} height={510} style={{ position: "absolute", left: 0, top: 0 }} />
      <canvas ref={botRef} width={1176} height={511} style={{ position: "absolute", left: 0, top: 510 }} />
    </div>
  );
}
